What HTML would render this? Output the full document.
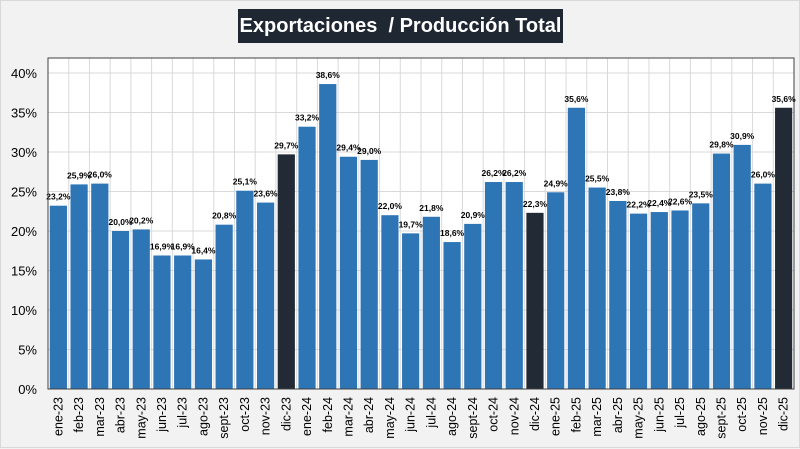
<!DOCTYPE html>
<html><head><meta charset="utf-8"><style>
body{margin:0;background:#f2f2f2;font-family:"Liberation Sans",sans-serif}
#wrap{position:relative;width:800px;height:448px;background:#f2f2f2;box-sizing:border-box;border:1px solid #d9d9d9}
#title{position:absolute;left:237px;top:8px;width:325px;height:34px;background:#1f2733;color:#fff;font-weight:bold;font-size:20px;line-height:34px;text-align:center}
</style></head><body>
<div id="wrap">
<div id="title">Exportaciones &nbsp;/ Producción Total</div>
<svg id="chart" width="800" height="448" style="position:absolute;left:0;top:0"></svg>
</div>
<script>
const categories=["ene-23","feb-23","mar-23","abr-23","may-23","jun-23","jul-23","ago-23","sept-23","oct-23","nov-23","dic-23","ene-24","feb-24","mar-24","abr-24","may-24","jun-24","jul-24","ago-24","sept-24","oct-24","nov-24","dic-24","ene-25","feb-25","mar-25","abr-25","may-25","jun-25","jul-25","ago-25","sept-25","oct-25","nov-25","dic-25"];
const values=[23.2,25.9,26.0,20.0,20.2,16.9,16.9,16.4,20.8,25.1,23.6,29.7,33.2,38.6,29.4,29.0,22.0,19.7,21.8,18.6,20.9,26.2,26.2,22.3,24.9,35.6,25.5,23.8,22.2,22.4,22.6,23.5,29.8,30.9,26.0,35.6];
const yTicks=[0,5,10,15,20,25,30,35,40];
const NS="http://www.w3.org/2000/svg";
const svg=document.getElementById('chart');
const L=47,R=793,T=57,B=388;
const step=(R-L)/categories.length;
const y=v=>B-v*(B-72)/40;
const x=i=>L+i*step;
function mk(tag,attrs,parent){const e=document.createElementNS(NS,tag);for(const k in attrs)e.setAttribute(k,attrs[k]);(parent||svg).appendChild(e);return e;}
const bg=mk('rect',{x:L,y:T,width:R-L,height:B-T,fill:'#fff'});


yTicks.forEach(t=>{
  const g=mk('line',{x1:L,x2:R,y1:y(t),y2:y(t),stroke:'#d9d9d9','stroke-width':1});
  
  
  const tx=mk('text',{x:36,y:y(t)+5,'text-anchor':'end','font-size':13,fill:'#000'});
  tx.textContent=t+'%';
  
  
});
for(let i=1;i<categories.length;i++){
  const g=mk('line',{x1:x(i),x2:x(i),y1:T,y2:B,stroke:'#d9d9d9','stroke-width':1});
  
  
}
const bw=step*0.83;
categories.forEach((c,i)=>{
  const v=values[i];
  const dark=c.startsWith('dic');
  const r=mk('rect',{x:x(i)+(step-bw)/2,y:y(v),width:bw,height:B-y(v),fill:dark?'#222a35':'#2e75b6'});
  
  
  const lb=mk('text',{x:x(i)+step/2,y:y(v)-6,'text-anchor':'middle','font-size':8.5,'font-weight':'bold',fill:'#000'});
  lb.textContent=v.toFixed(1).replace('.',',')+'%';
  
  
  const cx=x(i)+step/2+4;
  const xl=mk('text',{x:cx,y:396,'text-anchor':'end','font-size':12.5,fill:'#000',transform:`rotate(-90 ${cx} 396)`});
  xl.textContent=c;
  
  
});
const bd=mk('rect',{x:L,y:T,width:R-L,height:B-T,fill:'none',stroke:'#404040','stroke-width':1});


</script>
</body></html>
